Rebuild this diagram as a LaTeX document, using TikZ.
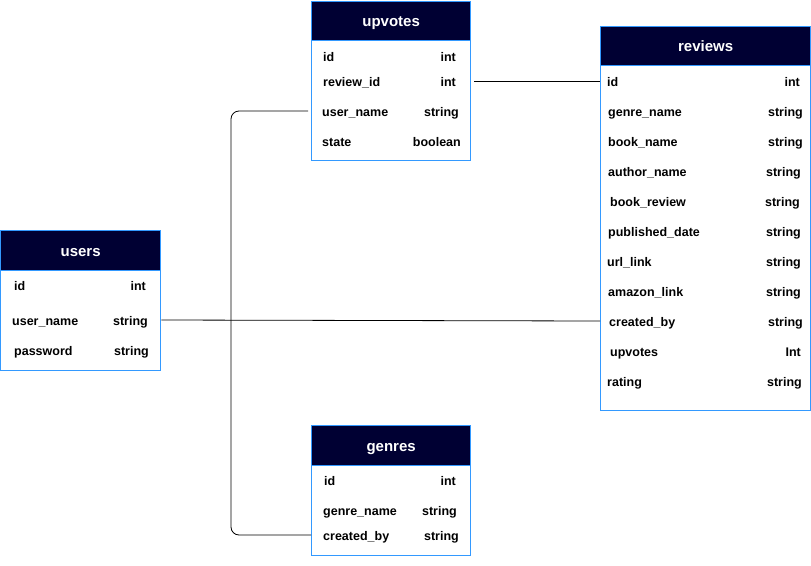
\documentclass[tikz,border=0pt]{standalone}
\usepackage{fontspec}
\setmainfont{Liberation Sans}
\definecolor{navy}{HTML}{000033}
\definecolor{tblblue}{HTML}{3399FF}
\begin{document}
\begin{tikzpicture}[x=1pt,y=-1pt,
  tbl/.style={draw=tblblue, line width=1.3pt, fill=white, inner sep=0pt, anchor=north west},
  hdr/.style={draw=tblblue, line width=1.3pt, fill=navy, inner sep=0pt, anchor=north west,
              text=white, text height=11.5pt, text depth=0pt,
              font=\fontsize{15}{17}\selectfont\bfseries},
  fld/.style={anchor=west, inner sep=0pt, text height=11pt, text depth=0pt,
              font=\fontsize{12.5}{14}\selectfont\bfseries},
  typ/.style={anchor=east, inner sep=0pt, text height=11pt, text depth=0pt,
              font=\fontsize{12.5}{14}\selectfont\bfseries},
  conn/.style={draw=black, line width=0.8pt}]
\useasboundingbox (0,0) rectangle (811,565);

% ---------- upvotes ----------
\node[tbl, minimum width=159pt, minimum height=159pt] (upvotes) at (311,1) {};
\node[hdr, minimum width=159pt, minimum height=39pt] (upvotesh) at (311,1) {upvotes};
\node[fld] (uvf1) at (323,56) {id};
\node[typ] (uvt1) at (456,56) {int};
\node[fld] (uvf2) at (323,81) {review\_id};
\node[typ] (uvt2) at (456,81) {int};
\node[fld] (uvf3) at (322,111) {user\_name};
\node[typ] (uvt3) at (459,111) {string};
\node[fld] (uvf4) at (322,141) {state};
\node[typ] (uvt4) at (461,141) {boolean};

% ---------- reviews ----------
\node[tbl, minimum width=210pt, minimum height=384pt] (reviews) at (600,26) {};
\node[hdr, minimum width=210pt, minimum height=39pt] (reviewsh) at (600,26) {reviews};
\node[fld] (rvf1) at (607,81) {id};
\node[typ] (rvt1) at (800,81) {int};
\node[fld] (rvf2) at (608,111) {genre\_name};
\node[typ] (rvt2) at (803,111) {string};
\node[fld] (rvf3) at (608,141) {book\_name};
\node[typ] (rvt3) at (803,141) {string};
\node[fld] (rvf4) at (608,171) {author\_name};
\node[typ] (rvt4) at (801,171) {string};
\node[fld] (rvf5) at (610,201) {book\_review};
\node[typ] (rvt5) at (800,201) {string};
\node[fld] (rvf6) at (608,231) {published\_date};
\node[typ] (rvt6) at (801,231) {string};
\node[fld] (rvf7) at (607,261) {url\_link};
\node[typ] (rvt7) at (801,261) {string};
\node[fld] (rvf8) at (608,291) {amazon\_link};
\node[typ] (rvt8) at (801,291) {string};
\node[fld] (rvf9) at (609,321) {created\_by};
\node[typ] (rvt9) at (803,321) {string};
\node[fld] (rvf10) at (610,351) {upvotes};
\node[typ] (rvt10) at (801,351) {Int};
\node[fld] (rvf11) at (607,381) {rating};
\node[typ] (rvt11) at (802,381) {string};

% ---------- users ----------
\node[tbl, minimum width=160pt, minimum height=140pt] (users) at (0,230) {};
\node[hdr, minimum width=160pt, minimum height=40pt] (usersh) at (0,230) {users};
\node[fld] (usf1) at (14,285) {id};
\node[typ] (ust1) at (146,285) {int};
\node[fld] (usf2) at (12,320) {user\_name};
\node[typ] (ust2) at (148,320) {string};
\node[fld] (usf3) at (14,350) {password};
\node[typ] (ust3) at (149,350) {string};

% ---------- genres ----------
\node[tbl, minimum width=159pt, minimum height=130pt] (genres) at (311,425) {};
\node[hdr, minimum width=159pt, minimum height=40pt] (genresh) at (311,425) {genres};
\node[fld] (gnf1) at (324,480) {id};
\node[typ] (gnt1) at (456,480) {int};
\node[fld] (gnf2) at (323,510) {genre\_name};
\node[typ] (gnt2) at (457,510) {string};
\node[fld] (gnf3) at (323,535) {created\_by};
\node[typ] (gnt3) at (459,535) {string};

% ---------- connectors ----------
\draw[conn] ([xshift=18pt]uvt2.east) -- (reviews.west |- uvt2.east);
\draw[conn] (users.east |- usf2.west) -- (reviews.west |- rvf9.west);
\draw[conn, rounded corners=8pt] ([xshift=-3pt]upvotes.west |- uvf3.west) -- ++(-77,0)
      |- (genres.west |- gnf3.west);
\end{tikzpicture}
\end{document}
